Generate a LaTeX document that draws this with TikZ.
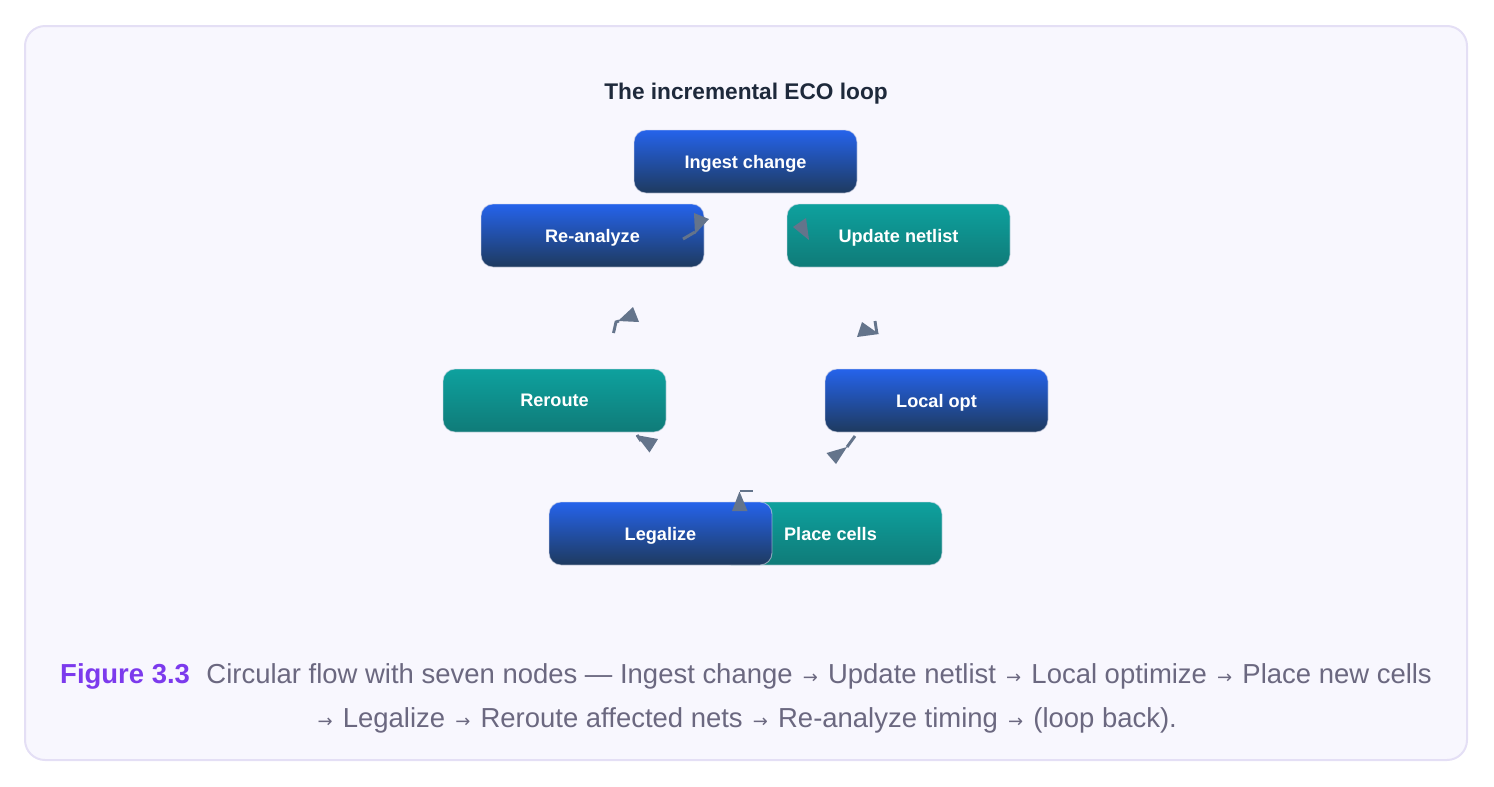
\documentclass[tikz,border=0pt]{standalone}
\usepackage{fontspec}
\setmainfont{Liberation Sans}
\newfontfamily\symfont{DejaVu Sans}
\usetikzlibrary{positioning}
\definecolor{panelfill}{HTML}{F8F7FE}
\definecolor{paneldraw}{HTML}{E4DFF5}
\definecolor{bluetop}{HTML}{2563EB}
\definecolor{bluebot}{HTML}{1E3A5F}
\definecolor{tealtop}{HTML}{0EA19E}
\definecolor{tealbot}{HTML}{0F7B78}
\definecolor{boxline}{HTML}{D8DAE8}
\definecolor{stubgray}{HTML}{64748B}
\definecolor{titlecol}{HTML}{1E293B}
\definecolor{figcol}{HTML}{7C3AED}
\definecolor{capcol}{HTML}{6B6880}
\tikzset{
	loopbox/.style={rounded corners=9pt,draw=boxline,draw opacity=0.6,line width=0.7pt,minimum width=167.25pt,minimum height=47.25pt,inner sep=0pt,text depth=0pt,text=white,font=\bfseries\fontsize{13.6}{15}\selectfont},
	bluebox/.style={loopbox,top color=bluetop,bottom color=bluebot},
	tealbox/.style={loopbox,top color=tealtop,bottom color=tealbot},
	stub/.style={draw=stubgray,line width=2.2pt},
	stubtip/.style={fill=stubgray},
	captext/.style={text=capcol,font=\fontsize{20.6}{24}\selectfont}
}
\newcommand{\ra}{\hspace{1.9pt}{\symfont\fontsize{13.5}{14}\selectfont →}\hspace{1.9pt}}
\begin{document}
\begin{tikzpicture}[x=0.75pt,y=-0.75pt]
	\useasboundingbox (0,0) rectangle (1494,786);
	\filldraw[fill=panelfill,draw=paneldraw,line width=1.5pt,rounded corners=15pt] (25,26) rectangle (1467,760);
	\node[text=titlecol,font=\bfseries\fontsize{17}{20}\selectfont] (title) at (746,94) {The incremental ECO loop};
	% boxes of the loop
	\node[bluebox] (ingest) at (745.5,161.5) {Ingest change};
	\node[bluebox] (reanalyze) at (592.5,235.5) {Re-analyze};
	\node[tealbox] (update) at (898.5,235.5) {Update netlist};
	\node[tealbox] (reroute) at (554.5,400.5) {Reroute};
	\node[bluebox] (localopt) at (936.5,400.5) {Local opt};
	\node[tealbox] (place) at (830.5,533.5) {Place cells};
	\node[bluebox] (legalize) at (660.5,533.5) {Legalize};
	% arrow stubs
	\draw[stub] (683,239) -- (695,232);
	\fill[stubtip] (694,213) -- (709,219) -- (695,234) -- cycle;
	\fill[stubtip] (793,227) -- (806,218) -- (809,240) -- cycle;
	\draw[stub] (613.5,333) -- (616,322) -- (619,321);
	\fill[stubtip] (618,321) -- (633,307) -- (639,322) -- cycle;
	\draw[stub] (875,321) -- (877,334);
	\fill[stubtip] (857,337) -- (862,322) -- (879,334) -- cycle;
	\draw[stub] (637,435) -- (641,441);
	\fill[stubtip] (636,435) -- (658,439) -- (649.5,452.5) -- cycle;
	\draw[stub] (855,436) -- (847,447);
	\fill[stubtip] (826.5,453) -- (847,447) -- (836,464) -- cycle;
	\draw[stub] (739.5,491) -- (753,491);
	\fill[stubtip] (732,511) -- (739.5,491.5) -- (747.5,511) -- cycle;
	% caption
	\node[captext] (capa) at (746,676) {\textcolor{figcol}{\bfseries Figure 3.3}\hspace{0.6em}Circular flow with seven nodes — Ingest change \ra{} Update netlist \ra{} Local optimize \ra{} Place new cells};
	\node[captext] (capb) at (746,720) {\ra{} Legalize \ra{} Reroute affected nets \ra{} Re-analyze timing \ra{} (loop back).};
\end{tikzpicture}
\end{document}
